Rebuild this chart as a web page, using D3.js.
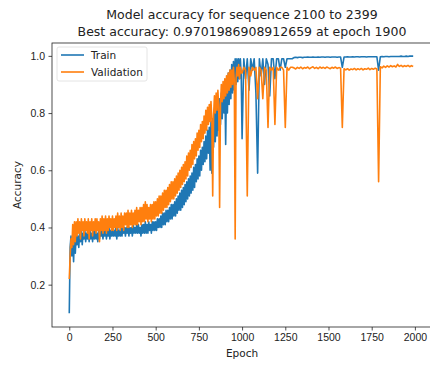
<!DOCTYPE html>
<html>
<head>
<meta charset="utf-8">
<script src="https://cdn.jsdelivr.net/npm/d3@7"></script>
<style>
  body { margin: 0; background: #fff; }
  svg { display: block; font-family: "DejaVu Sans", sans-serif; }
</style>
</head>
<body>
<svg width="430" height="365"></svg>
<script>
// Epochs: every 5 while noisy (0-995), every 10 after
const epochs = d3.range(0, 1000, 5).concat(d3.range(1000, 2000, 10));

const train = [
  // 0 - 995, step 5
  0.10, 0.33, 0.37, 0.30, 0.36, 0.28, 0.37, 0.31, 0.38, 0.34,
  0.37, 0.33, 0.38, 0.35, 0.39, 0.34, 0.38, 0.36, 0.39, 0.35,
  0.38, 0.36, 0.39, 0.35, 0.39, 0.36, 0.38, 0.35, 0.39, 0.36,
  0.39, 0.36, 0.38, 0.35, 0.39, 0.36, 0.39, 0.37, 0.39, 0.36,
  0.39, 0.37, 0.40, 0.36, 0.39, 0.37, 0.40, 0.36, 0.39, 0.37,
  0.40, 0.37, 0.39, 0.37, 0.40, 0.36, 0.40, 0.37, 0.39, 0.37,
  0.40, 0.37, 0.40, 0.38, 0.40, 0.37, 0.40, 0.38, 0.41, 0.37,
  0.40, 0.38, 0.40, 0.37, 0.41, 0.38, 0.40, 0.38, 0.41, 0.38,
  0.41, 0.38, 0.40, 0.37, 0.41, 0.38, 0.41, 0.38, 0.42, 0.38,
  0.41, 0.38, 0.42, 0.39, 0.41, 0.38, 0.42, 0.39, 0.42, 0.39,
  0.42, 0.39, 0.43, 0.40, 0.43, 0.40, 0.44, 0.40, 0.45, 0.41,
  0.45, 0.41, 0.46, 0.42, 0.46, 0.42, 0.47, 0.43, 0.48, 0.43,
  0.48, 0.44, 0.49, 0.44, 0.50, 0.45, 0.51, 0.46, 0.52, 0.46,
  0.53, 0.47, 0.54, 0.48, 0.55, 0.49, 0.56, 0.50, 0.57, 0.51,
  0.58, 0.52, 0.59, 0.53, 0.61, 0.54, 0.62, 0.56, 0.64, 0.57,
  0.65, 0.58, 0.67, 0.60, 0.68, 0.62, 0.70, 0.63, 0.72, 0.64,
  0.74, 0.66, 0.75, 0.60, 0.77, 0.59, 0.78, 0.68, 0.80, 0.70,
  0.82, 0.72, 0.83, 0.74, 0.85, 0.76, 0.87, 0.78, 0.89, 0.80,
  0.91, 0.69, 0.92, 0.80, 0.94, 0.83, 0.95, 0.85, 0.97, 0.87,
  0.98, 0.88, 0.99, 0.90, 0.99, 0.91, 0.99, 0.92, 0.99, 0.93,
  // 1000 - 1990, step 10
  0.71, 0.99, 0.92, 0.99, 0.88, 0.99, 0.95, 0.99, 0.87, 0.59,
  0.99, 0.93, 0.99, 0.90, 0.99, 0.97, 0.86, 0.99, 0.99, 0.92,
  0.99, 0.99, 0.95, 0.99, 0.99, 0.96, 0.99, 0.99, 0.99, 0.99,
  0.994, 0.995, 0.994, 0.995, 0.995, 0.994, 0.995, 0.995, 0.996, 0.995,
  0.995, 0.996, 0.995, 0.995, 0.996, 0.995, 0.996, 0.996, 0.995, 0.996,
  0.996, 0.995, 0.996, 0.996, 0.996, 0.995, 0.996, 0.996, 0.96, 0.996,
  0.996, 0.997, 0.996, 0.996, 0.997, 0.996, 0.997, 0.997, 0.996, 0.997,
  0.997, 0.997, 0.996, 0.997, 0.997, 0.997, 0.997, 0.997, 0.997, 0.95,
  0.997, 0.998, 0.997, 0.998, 0.998, 0.997, 0.998, 0.998, 0.998, 0.998,
  0.998, 0.998, 0.999, 0.998, 0.998, 0.999, 0.998, 0.999, 0.999, 0.999
];

const validation = [
  // 0 - 995, step 5
  0.22, 0.30, 0.36, 0.33, 0.41, 0.34, 0.42, 0.35, 0.42, 0.37,
  0.43, 0.38, 0.42, 0.36, 0.43, 0.39, 0.42, 0.37, 0.43, 0.39,
  0.42, 0.38, 0.43, 0.36, 0.42, 0.39, 0.43, 0.37, 0.42, 0.39,
  0.43, 0.38, 0.43, 0.39, 0.42, 0.35, 0.43, 0.39, 0.44, 0.38,
  0.43, 0.39, 0.44, 0.38, 0.43, 0.39, 0.44, 0.40, 0.43, 0.39,
  0.44, 0.39, 0.43, 0.40, 0.44, 0.39, 0.45, 0.40, 0.44, 0.39,
  0.45, 0.40, 0.44, 0.39, 0.45, 0.41, 0.45, 0.40, 0.46, 0.40,
  0.45, 0.41, 0.46, 0.40, 0.45, 0.41, 0.46, 0.41, 0.47, 0.41,
  0.46, 0.42, 0.47, 0.41, 0.47, 0.42, 0.48, 0.42, 0.49, 0.43,
  0.48, 0.42, 0.47, 0.43, 0.48, 0.42, 0.48, 0.43, 0.49, 0.43,
  0.49, 0.44, 0.50, 0.44, 0.51, 0.45, 0.51, 0.45, 0.52, 0.46,
  0.53, 0.47, 0.53, 0.47, 0.54, 0.48, 0.55, 0.49, 0.56, 0.50,
  0.56, 0.50, 0.57, 0.51, 0.58, 0.52, 0.59, 0.53, 0.60, 0.54,
  0.61, 0.55, 0.62, 0.56, 0.63, 0.57, 0.65, 0.58, 0.66, 0.60,
  0.67, 0.61, 0.69, 0.62, 0.70, 0.64, 0.71, 0.65, 0.73, 0.67,
  0.74, 0.68, 0.76, 0.70, 0.77, 0.71, 0.79, 0.73, 0.81, 0.74,
  0.82, 0.76, 0.83, 0.77, 0.84, 0.78, 0.51, 0.79, 0.86, 0.80,
  0.87, 0.81, 0.88, 0.82, 0.47, 0.83, 0.90, 0.84, 0.91, 0.85,
  0.92, 0.86, 0.93, 0.87, 0.94, 0.88, 0.95, 0.89, 0.95, 0.90,
  0.96, 0.91, 0.36, 0.92, 0.96, 0.93, 0.97, 0.92, 0.96, 0.94,
  // 1000 - 1990, step 10
  0.94, 0.96, 0.95, 0.51, 0.96, 0.93, 0.96, 0.95, 0.96, 0.85,
  0.96, 0.95, 0.85, 0.96, 0.95, 0.75, 0.96, 0.95, 0.96, 0.76,
  0.96, 0.95, 0.96, 0.96, 0.95, 0.75, 0.96, 0.95, 0.96, 0.96,
  0.958, 0.954, 0.960, 0.956, 0.961, 0.955, 0.959, 0.957, 0.961, 0.955,
  0.959, 0.962, 0.956, 0.960, 0.955, 0.961, 0.957, 0.960, 0.956, 0.961,
  0.958, 0.955, 0.960, 0.957, 0.961, 0.956, 0.959, 0.957, 0.75, 0.955,
  0.951, 0.955, 0.950, 0.954, 0.952, 0.956, 0.951, 0.955, 0.952, 0.956,
  0.951, 0.955, 0.953, 0.957, 0.952, 0.956, 0.953, 0.957, 0.954, 0.56,
  0.962, 0.958, 0.964, 0.960, 0.965, 0.961, 0.966, 0.962, 0.965, 0.961,
  0.970, 0.963, 0.967, 0.962, 0.966, 0.963, 0.967, 0.962, 0.966, 0.963
];

const xTicks = [0, 250, 500, 750, 1000, 1250, 1500, 1750, 2000];
const yTicks = [0.2, 0.4, 0.6, 0.8, 1.0];
const titleLines = [
  "Model accuracy for sequence 2100 to 2399",
  "Best accuracy: 0.9701986908912659 at epoch 1900"
];

const box = { left: 52, right: 432, top: 43, bottom: 327 };

const svg = d3.select("svg");
svg.append("rect").attr("width", 430).attr("height", 365).attr("fill", "#fff");

const x = d3.scaleLinear().domain([-99.95, 2098.95]).range([box.left, box.right]);
const y = d3.scaleLinear().domain([0.052, 1.045]).range([box.bottom, box.top]);

svg.append("clipPath").attr("id", "clip")
  .append("rect")
  .attr("x", box.left).attr("y", box.top)
  .attr("width", box.right - box.left).attr("height", box.bottom - box.top);

const line = series => d3.line()
  .x((d, i) => x(epochs[i]))
  .y(d => y(d))(series);

const plot = svg.append("g").attr("clip-path", "url(#clip)");
plot.append("path")
  .attr("d", line(train))
  .attr("fill", "none")
  .attr("stroke", "#1f77b4")
  .attr("stroke-width", 1.6)
  .attr("stroke-linejoin", "round");
plot.append("path")
  .attr("d", line(validation))
  .attr("fill", "none")
  .attr("stroke", "#ff7f0e")
  .attr("stroke-width", 1.6)
  .attr("stroke-linejoin", "round");

// axes
const xAxis = svg.append("g")
  .attr("transform", `translate(0,${box.bottom})`)
  .call(d3.axisBottom(x).tickValues(xTicks).tickFormat(d3.format("d"))
    .tickSize(3.5).tickPadding(3.5).tickSizeOuter(0));
const yAxis = svg.append("g")
  .attr("transform", `translate(${box.left},0)`)
  .call(d3.axisLeft(y).tickValues(yTicks).tickFormat(d3.format(".1f"))
    .tickSize(3.5).tickPadding(3.5).tickSizeOuter(0));

[xAxis, yAxis].forEach(g => {
  g.select(".domain").remove();
  g.selectAll("line").attr("stroke", "#222").attr("stroke-width", 0.8);
  g.selectAll("text").attr("fill", "#222").style("font-size", "10.5px");
});

// spines
svg.append("rect")
  .attr("x", box.left).attr("y", box.top)
  .attr("width", box.right - box.left).attr("height", box.bottom - box.top)
  .attr("fill", "none").attr("stroke", "#222").attr("stroke-width", 0.8);

// labels
svg.append("text")
  .attr("x", (box.left + box.right) / 2).attr("y", 357)
  .attr("text-anchor", "middle")
  .style("font-size", "10.5px").attr("fill", "#222")
  .text("Epoch");
svg.append("text")
  .attr("transform", `translate(21,${(box.top + box.bottom) / 2}) rotate(-90)`)
  .attr("text-anchor", "middle")
  .style("font-size", "10.5px").attr("fill", "#222")
  .text("Accuracy");

svg.selectAll(".title")
  .data(titleLines)
  .enter().append("text")
  .attr("class", "title")
  .attr("x", (box.left + box.right) / 2)
  .attr("y", (d, i) => 19 + i * 17)
  .attr("text-anchor", "middle")
  .style("font-size", "12.5px").attr("fill", "#222")
  .text(d => d);

// legend
const legend = svg.append("g").attr("transform", "translate(57,47)");
legend.append("rect")
  .attr("width", 90).attr("height", 34).attr("rx", 2)
  .attr("fill", "#fff").attr("fill-opacity", 0.8)
  .attr("stroke", "#ddd").attr("stroke-width", 0.8);
const items = [["Train", "#1f77b4"], ["Validation", "#ff7f0e"]];
items.forEach(([name, color], i) => {
  const yy = 8 + i * 17;
  legend.append("line")
    .attr("x1", 4).attr("x2", 27).attr("y1", yy).attr("y2", yy)
    .attr("stroke", color).attr("stroke-width", 1.6);
  legend.append("text")
    .attr("x", 34).attr("y", yy + 3.8)
    .style("font-size", "10.5px").attr("fill", "#222")
    .text(name);
});
</script>
</body>
</html>
